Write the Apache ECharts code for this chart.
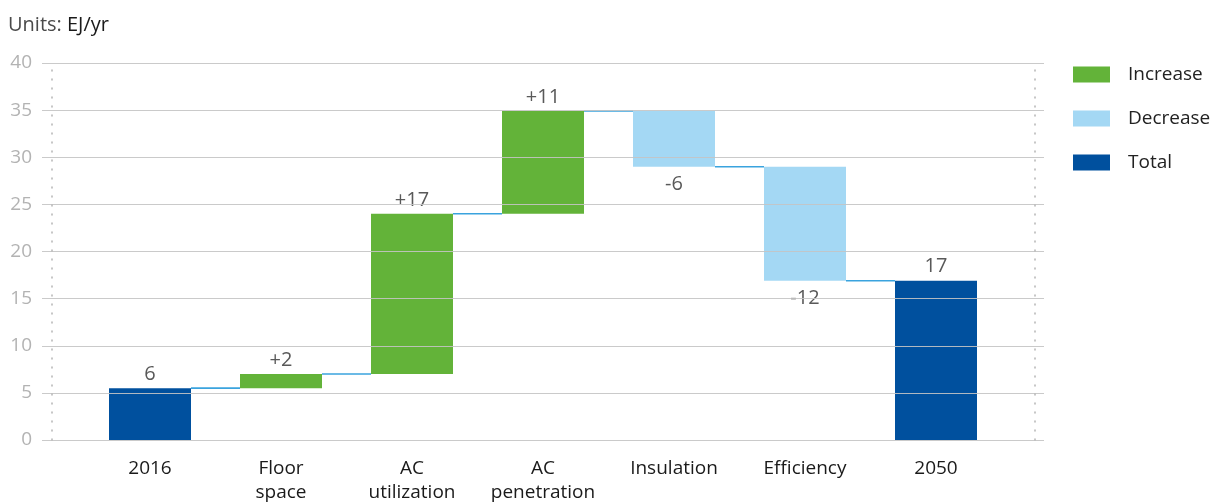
<!DOCTYPE html>
<html>
<head>
<meta charset="utf-8">
<script src="https://cdn.jsdelivr.net/npm/echarts@6/dist/echarts.min.js"></script>
<style>
html,body{margin:0;padding:0;background:#fff;}
#chart{width:1216px;height:502px;}
</style>
</head>
<body>
<div id="chart"></div>
<script>
// ---- data ----
const categories = ['2016', 'Floor\nspace', 'AC\nutilization', 'AC\npenetration', 'Insulation', 'Efficiency', '2050'];
const totalValues = [5.5, '-', '-', '-', '-', '-', 16.9];
const increaseValues = ['-', 1.5, 17.0, 10.9, '-', '-', '-'];
const decreaseValues = ['-', '-', '-', '-', 5.9, 12.1, '-'];
const valueLabels = ['6', '+2', '+17', '+11', '-6', '-12', '17'];
const yTicks = [0, 5, 10, 15, 20, 25, 30, 35, 40];

// ---- derived: invisible base for waterfall & connector levels ----
const baseValues = [];
const levels = [];
let running = 0;
for (let i = 0; i < categories.length; i++) {
  if (totalValues[i] !== '-') { baseValues.push(0); running = totalValues[i]; }
  else if (increaseValues[i] !== '-') { baseValues.push(running); running += increaseValues[i]; }
  else { running -= decreaseValues[i]; baseValues.push(running); }
  levels.push(running);
}
const connectorData = [];
for (let i = 0; i < categories.length - 1; i++) connectorData.push([i, +levels[i].toFixed(2)]);

const FONT = '"Open Sans", "Noto Sans", sans-serif';
const BAR_W = 82;
const chart = echarts.init(document.getElementById('chart'));

const labelCommon = {
  show: true, color: '#595959', fontSize: 20, fontFamily: FONT,
  formatter: p => valueLabels[p.dataIndex]
};

chart.setOption({
  animation: false,
  textStyle: { fontFamily: FONT },
  title: {
    text: '{a|Units: }{b|EJ/yr}',
    left: 3, top: 10,
    textStyle: {
      fontWeight: 'normal',
      rich: {
        a: { fontSize: 20, color: '#4a4a4a', fontFamily: FONT, fontWeight: 'normal' },
        b: { fontSize: 20, color: '#1a1a1a', fontFamily: FONT, fontWeight: 'normal' }
      }
    }
  },
  legend: {
    orient: 'vertical',
    left: 1068, top: 60,
    icon: 'rect',
    itemWidth: 37, itemHeight: 16, itemGap: 25,
    data: ['Increase', 'Decrease', 'Total'],
    textStyle: { fontSize: 19, color: '#222', fontFamily: FONT, padding: [0, 0, 0, 13] }
  },
  grid: [
    { left: 42, right: 172, top: 63, bottom: 62, outerBoundsMode: 'none', containLabel: false },
    { left: 84.5, right: 214.5, top: 63, bottom: 62, outerBoundsMode: 'none', containLabel: false }
  ],
  xAxis: [
    { gridIndex: 0, type: 'category', data: categories, show: false },
    {
      gridIndex: 1, type: 'category', data: categories,
      axisLine: { show: false }, axisTick: { show: false },
      axisLabel: { color: '#1a1a1a', fontSize: 19, lineHeight: 24, margin: 17, fontFamily: FONT, interval: 0 }
    }
  ],
  yAxis: [
    {
      gridIndex: 0, type: 'value', min: yTicks[0], max: yTicks[yTicks.length - 1], interval: 5,
      position: 'left', offset: -10, z: 5,
      axisLine: { show: true, lineStyle: { color: '#b5b5b5', type: [1, 8], width: 1.5 } },
      axisTick: { show: false },
      axisLabel: { color: '#b3b3b3', fontSize: 19, margin: 20, fontFamily: FONT },
      splitLine: { show: true, lineStyle: { color: '#c4c4c4', width: 1, opacity: 0.9 } }
    },
    {
      gridIndex: 0, type: 'value', min: 0, max: 40, interval: 5,
      position: 'right', offset: -9, z: 5,
      axisLine: { show: true, lineStyle: { color: '#b5b5b5', type: [1, 8], width: 1.5 } },
      axisTick: { show: false }, axisLabel: { show: false }, splitLine: { show: false }
    },
    { gridIndex: 1, type: 'value', min: 0, max: 40, interval: 5, show: false, splitLine: { show: false } }
  ],
  series: [
    {
      name: 'connector', type: 'custom', xAxisIndex: 1, yAxisIndex: 2, z: 1,
      data: connectorData,
      renderItem: function (params, api) {
        const i = api.value(0), v = api.value(1);
        const p1 = api.coord([i, v]);
        const p2 = api.coord([i + 1, v]);
        const hw = BAR_W / 2;
        return {
          type: 'line',
          shape: { x1: p1[0] + hw, y1: p1[1], x2: p2[0] - hw, y2: p2[1] },
          style: { stroke: '#3aa3de', lineWidth: 1.6 }
        };
      }
    },
    {
      name: 'base', type: 'bar', stack: 'w', xAxisIndex: 1, yAxisIndex: 2,
      barWidth: BAR_W, itemStyle: { color: 'transparent' }, emphasis: { disabled: true },
      data: baseValues
    },
    {
      name: 'Increase', type: 'bar', stack: 'w', xAxisIndex: 1, yAxisIndex: 2,
      barWidth: BAR_W, itemStyle: { color: '#63b339' },
      label: Object.assign({}, labelCommon, { position: 'top', distance: 4 }),
      data: increaseValues
    },
    {
      name: 'Decrease', type: 'bar', stack: 'w', xAxisIndex: 1, yAxisIndex: 2,
      barWidth: BAR_W, itemStyle: { color: '#a4d8f4' },
      label: Object.assign({}, labelCommon, { position: 'bottom', distance: 8 }),
      data: decreaseValues
    },
    {
      name: 'Total', type: 'bar', stack: 'w', xAxisIndex: 1, yAxisIndex: 2,
      barWidth: BAR_W, itemStyle: { color: '#00509e' },
      label: Object.assign({}, labelCommon, { position: 'top', distance: 4 }),
      data: totalValues
    }
  ]
});
</script>
</body>
</html>
